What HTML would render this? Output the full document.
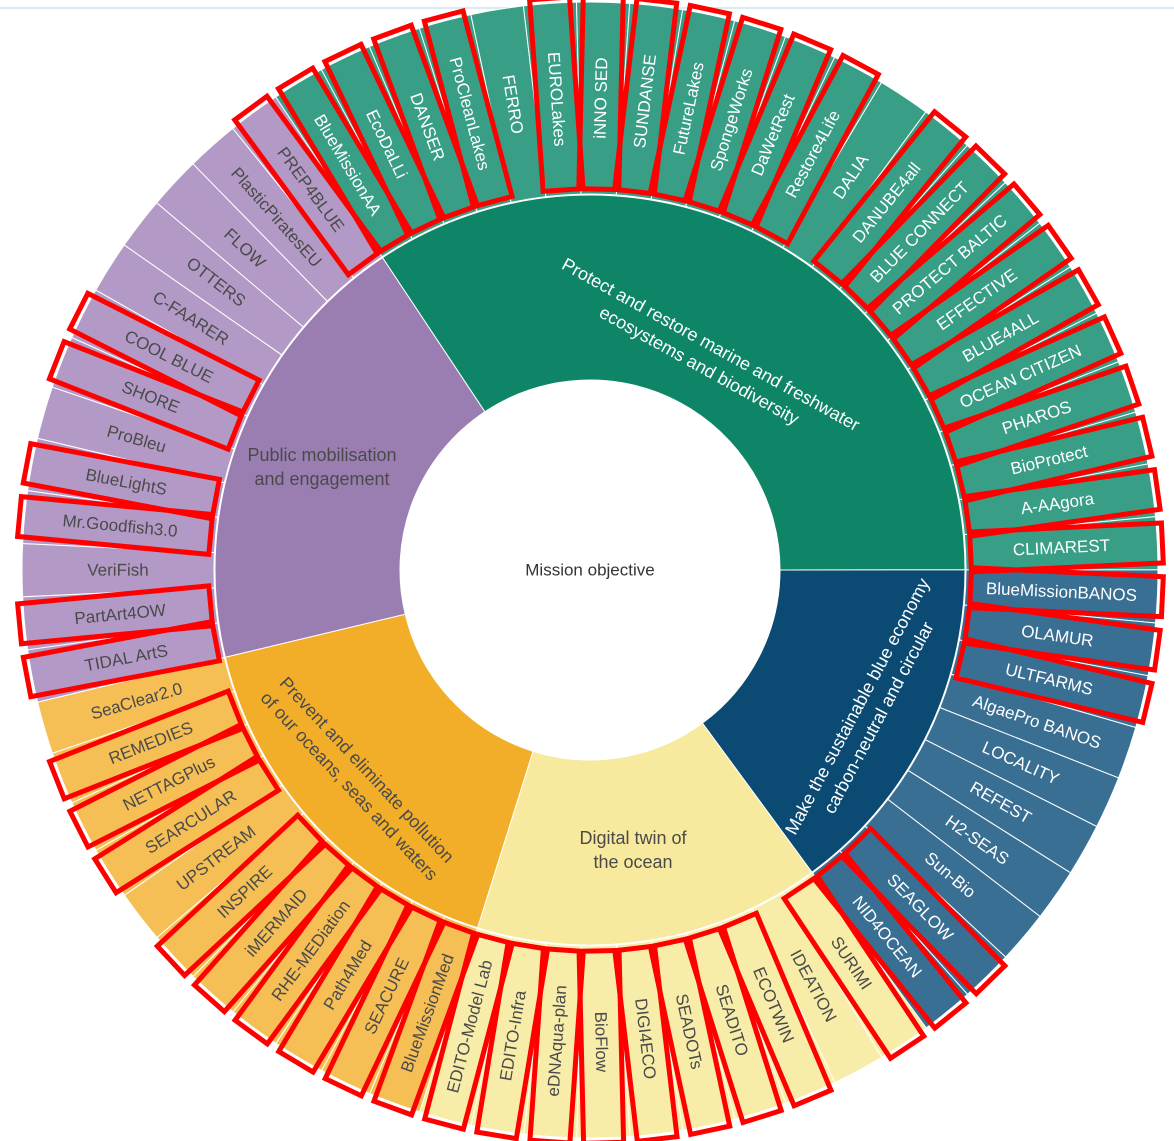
<!DOCTYPE html>
<html><head><meta charset="utf-8">
<style>
html,body{margin:0;padding:0;background:#fff;}
svg{display:block;}
text{font-family:"Liberation Sans",Arial,sans-serif;}
.w{fill:#fff;font-size:17px;}
.d{fill:#4a4a4a;font-size:17px;}
.l text{text-anchor:middle;dominant-baseline:central;}
</style></head>
<body>
<svg id="s" width="1174" height="1141" viewBox="0 0 1174 1141" xmlns="http://www.w3.org/2000/svg">
<line x1="0" y1="8" x2="1174" y2="8" stroke="#d6ecf2" stroke-width="2"/>
<g id="wedges"></g>
<circle cx="590" cy="570" r="190" fill="#fff"/>
<g class="l">
<text class="w" transform="rotate(59.09 590 570)" x="118" y="570">BlueMissionAA</text>
<text class="w" transform="rotate(64.46 590 570)" x="118" y="570">EcoDaLLi</text>
<text class="w" transform="rotate(69.83 590 570)" x="118" y="570">DANSER</text>
<text class="w" transform="rotate(75.21 590 570)" x="118" y="570">ProCleanLakes</text>
<text class="w" transform="rotate(80.58 590 570)" x="118" y="570">FERRO</text>
<text class="w" transform="rotate(85.95 590 570)" x="118" y="570">EUROLakes</text>
<text class="w" transform="rotate(-88.67 590 570)" x="1062" y="570">iNNO SED</text>
<text class="w" transform="rotate(-83.30 590 570)" x="1062" y="570">SUNDANSE</text>
<text class="w" transform="rotate(-77.93 590 570)" x="1062" y="570">FutureLakes</text>
<text class="w" transform="rotate(-72.55 590 570)" x="1062" y="570">SpongeWorks</text>
<text class="w" transform="rotate(-67.18 590 570)" x="1062" y="570">DaWetRest</text>
<text class="w" transform="rotate(-61.81 590 570)" x="1062" y="570">Restore4Life</text>
<text class="w" transform="rotate(-56.44 590 570)" x="1062" y="570">DALIA</text>
<text class="w" transform="rotate(-51.06 590 570)" x="1062" y="570">DANUBE4all</text>
<text class="w" transform="rotate(-45.69 590 570)" x="1062" y="570">BLUE CONNECT</text>
<text class="w" transform="rotate(-40.32 590 570)" x="1062" y="570">PROTECT BALTIC</text>
<text class="w" transform="rotate(-34.94 590 570)" x="1062" y="570">EFFECTIVE</text>
<text class="w" transform="rotate(-29.57 590 570)" x="1062" y="570">BLUE4ALL</text>
<text class="w" transform="rotate(-24.20 590 570)" x="1062" y="570">OCEAN CITIZEN</text>
<text class="w" transform="rotate(-18.83 590 570)" x="1062" y="570">PHAROS</text>
<text class="w" transform="rotate(-13.45 590 570)" x="1062" y="570">BioProtect</text>
<text class="w" transform="rotate(-8.08 590 570)" x="1062" y="570">A-AAgora</text>
<text class="w" transform="rotate(-2.71 590 570)" x="1062" y="570">CLIMAREST</text>
<text class="w" transform="rotate(2.67 590 570)" x="1062" y="570">BlueMissionBANOS</text>
<text class="w" transform="rotate(8.04 590 570)" x="1062" y="570">OLAMUR</text>
<text class="w" transform="rotate(13.41 590 570)" x="1062" y="570">ULTFARMS</text>
<text class="w" transform="rotate(18.79 590 570)" x="1062" y="570">AlgaePro BANOS</text>
<text class="w" transform="rotate(24.16 590 570)" x="1062" y="570">LOCALITY</text>
<text class="w" transform="rotate(29.53 590 570)" x="1062" y="570">REFEST</text>
<text class="w" transform="rotate(34.91 590 570)" x="1062" y="570">H2-SEAS</text>
<text class="w" transform="rotate(40.28 590 570)" x="1062" y="570">Sun-Bio</text>
<text class="w" transform="rotate(45.65 590 570)" x="1062" y="570">SEAGLOW</text>
<text class="w" transform="rotate(51.02 590 570)" x="1062" y="570">NID4OCEAN</text>
<text class="d" transform="rotate(56.40 590 570)" x="1062" y="570">SURIMI</text>
<text class="d" transform="rotate(61.77 590 570)" x="1062" y="570">IDEATION</text>
<text class="d" transform="rotate(67.14 590 570)" x="1062" y="570">ECOTWIN</text>
<text class="d" transform="rotate(72.52 590 570)" x="1062" y="570">SEADITO</text>
<text class="d" transform="rotate(77.89 590 570)" x="1062" y="570">SEADOTs</text>
<text class="d" transform="rotate(83.26 590 570)" x="1062" y="570">DIGI4ECO</text>
<text class="d" transform="rotate(88.64 590 570)" x="1062" y="570">BioFlow</text>
<text class="d" transform="rotate(-85.99 590 570)" x="118" y="570">eDNAqua-plan</text>
<text class="d" transform="rotate(-80.62 590 570)" x="118" y="570">EDITO-Infra</text>
<text class="d" transform="rotate(-75.25 590 570)" x="118" y="570">EDITO-Model Lab</text>
<text class="d" transform="rotate(-69.87 590 570)" x="118" y="570">BlueMissionMed</text>
<text class="d" transform="rotate(-64.50 590 570)" x="118" y="570">SEACURE</text>
<text class="d" transform="rotate(-59.13 590 570)" x="118" y="570">Path4Med</text>
<text class="d" transform="rotate(-53.75 590 570)" x="118" y="570">RHE-MEDiation</text>
<text class="d" transform="rotate(-48.38 590 570)" x="118" y="570">iMERMAID</text>
<text class="d" transform="rotate(-43.01 590 570)" x="118" y="570">INSPIRE</text>
<text class="d" transform="rotate(-37.63 590 570)" x="118" y="570">UPSTREAM</text>
<text class="d" transform="rotate(-32.26 590 570)" x="118" y="570">SEARCULAR</text>
<text class="d" transform="rotate(-26.89 590 570)" x="118" y="570">NETTAGPlus</text>
<text class="d" transform="rotate(-21.51 590 570)" x="118" y="570">REMEDIES</text>
<text class="d" transform="rotate(-16.14 590 570)" x="118" y="570">SeaClear2.0</text>
<text class="d" transform="rotate(-10.77 590 570)" x="118" y="570">TIDAL ArtS</text>
<text class="d" transform="rotate(-5.39 590 570)" x="118" y="570">PartArt4OW</text>
<text class="d" transform="rotate(-0.02 590 570)" x="118" y="570">VeriFish</text>
<text class="d" transform="rotate(5.35 590 570)" x="118" y="570">Mr.Goodfish3.0</text>
<text class="d" transform="rotate(10.73 590 570)" x="118" y="570">BlueLightS</text>
<text class="d" transform="rotate(16.10 590 570)" x="118" y="570">ProBleu</text>
<text class="d" transform="rotate(21.47 590 570)" x="118" y="570">SHORE</text>
<text class="d" transform="rotate(26.85 590 570)" x="118" y="570">COOL BLUE</text>
<text class="d" transform="rotate(32.22 590 570)" x="118" y="570">C-FAARER</text>
<text class="d" transform="rotate(37.59 590 570)" x="118" y="570">OTTERS</text>
<text class="d" transform="rotate(42.97 590 570)" x="118" y="570">FLOW</text>
<text class="d" transform="rotate(48.34 590 570)" x="118" y="570">PlasticPiratesEU</text>
<text class="d" transform="rotate(53.71 590 570)" x="118" y="570">PREP4BLUE</text>

<text class="w" style="font-size:18px" transform="rotate(29 705 355)" x="705" y="343">Protect and restore marine and freshwater</text>
<text class="w" style="font-size:18px" transform="rotate(29 705 355)" x="705" y="367">ecosystems and biodiversity</text>
<text class="w" style="font-size:18px" transform="rotate(-62 868 712)" x="868" y="700">Make the sustainable blue economy</text>
<text class="w" style="font-size:18px" transform="rotate(-62 868 712)" x="868" y="724">carbon-neutral and circular</text>
<text class="d" style="font-size:18px" x="633" y="838">Digital twin of</text>
<text class="d" style="font-size:18px" x="633" y="862">the ocean</text>
<text class="d" style="font-size:18px" transform="rotate(47 358 778)" x="358" y="766">Prevent and eliminate pollution</text>
<text class="d" style="font-size:18px" transform="rotate(47 358 778)" x="358" y="790">of our oceans, seas and waters</text>
<text class="d" style="font-size:18px" x="322" y="455">Public mobilisation</text>
<text class="d" style="font-size:18px" x="322" y="479">and engagement</text>
<text style="font-size:17px;fill:#333" x="590" y="570">Mission objective</text>
</g>
<g id="boxes"></g>
</svg>
<script>
(function(){
var cx=590,cy=570,NS="http://www.w3.org/2000/svg";
function pt(r,a){a=a*Math.PI/180;return [cx+r*Math.sin(a),cy-r*Math.cos(a)];}
function wedge(r0,r1,a0,a1,fill){
  var p0=pt(r1,a0),p1=pt(r1,a1),p2=pt(r0,a1),p3=pt(r0,a0);
  var lg=(a1-a0)>180?1:0;
  var d="M"+p0+"A"+r1+","+r1+" 0 "+lg+" 1 "+p1+"L"+p2+"A"+r0+","+r0+" 0 "+lg+" 0 "+p3+"Z";
  var e=document.createElementNS(NS,"path");e.setAttribute("d",d);e.setAttribute("fill",fill);
  e.setAttribute("stroke","#fff");e.setAttribute("stroke-width","1");
  document.getElementById("wedges").appendChild(e);
}
var s=360/67,start=326.4;
var groups=[[23,"#0e8566","#389e86"],[10,"#0b4a72","#3a6f94"],[10,"#f7e99d","#f8eca9"],[11,"#f2ae29","#f5bf55"],[13,"#9a7eb2","#b39ac6"]];
var k=0;
groups.forEach(function(g){
  var a0=start+k*s,a1=start+(k+g[0])*s;
  wedge(190,375,a0,a1,g[1]);
  for(var i=0;i<g[0];i++){wedge(376,568,start+(k+i)*s,start+(k+i+1)*s,g[2]);}
  k+=g[0];
});
var boxed=[66,0,1,2,3,5,6,7,8,9,10,11,13,14,15,16,17,18,19,20,21,22,23,24,25,31,32,33,35,36,37,38,39,40,41,42,43,44,45,46,47,48,50,51,52,54,55,57,58,60,61];
var bg=document.getElementById("boxes");
boxed.forEach(function(i){
  var th=start+(i+0.5)*s;
  var r=document.createElementNS(NS,"rect");
  r.setAttribute("x",cx+381);r.setAttribute("y",cy-20);r.setAttribute("width",192);r.setAttribute("height",40);
  r.setAttribute("fill","none");r.setAttribute("stroke","#ff0000");r.setAttribute("stroke-width","5");
  r.setAttribute("transform","rotate("+(th-90)+" "+cx+" "+cy+")");
  bg.appendChild(r);
});
})();
</script>
</body></html>
